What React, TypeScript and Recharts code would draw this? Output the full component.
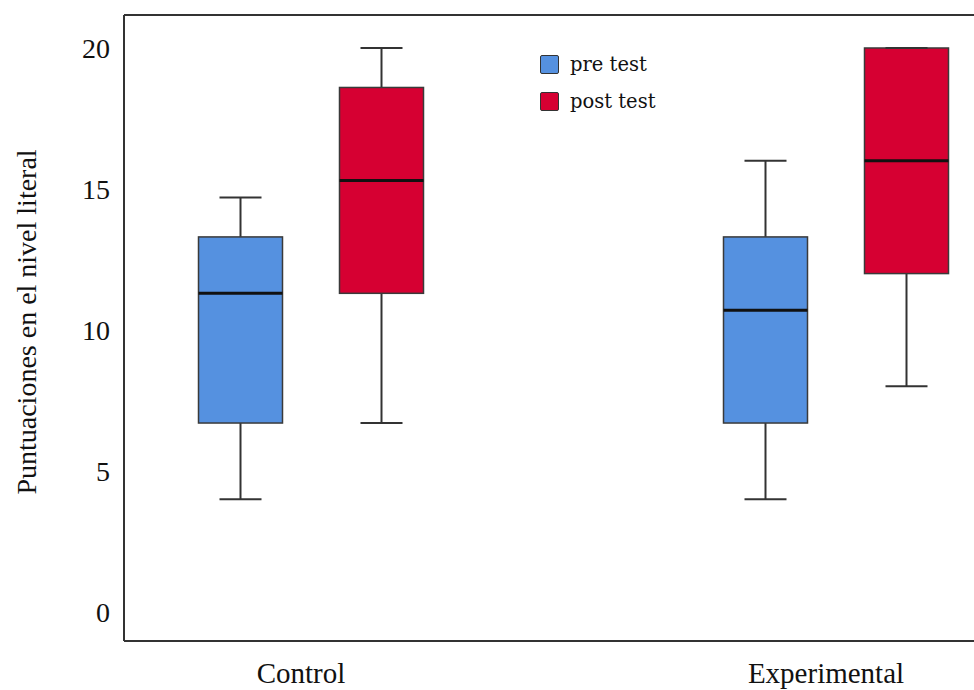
import React from "react";
import { ComposedChart, Bar, XAxis, YAxis, ReferenceLine, Legend } from "recharts";

// five-number summaries
const groups = ["Control", "Experimental"];
const preMin = [4, 4];
const preQ1 = [6.7, 6.7];
const preMedian = [11.3, 10.7];
const preQ3 = [13.3, 13.3];
const preMax = [14.7, 16];
const postMin = [6.7, 8];
const postQ1 = [11.3, 12];
const postMedian = [15.3, 16];
const postQ3 = [18.6, 20];
const postMax = [20, 20];
const yTicks = [0, 5, 10, 15, 20];
const yDomain = [-1.03, 21.17];
const seriesOrder = ["pre", "post"];

const BLUE = "#5591e0";
const RED = "#d60032";
const SERIF = "'Liberation Serif', 'Times New Roman', serif";

const data = groups.map((g, i) => ({
  group: g,
  pre: [preMin[i], preMax[i]],
  post: [postMin[i], postMax[i]],
  preStats: { min: preMin[i], q1: preQ1[i], med: preMedian[i], q3: preQ3[i], max: preMax[i] },
  postStats: { min: postMin[i], q1: postQ1[i], med: postMedian[i], q3: postQ3[i], max: postMax[i] },
}));

type Stats = { min: number; q1: number; med: number; q3: number; max: number };

function BoxShape(props: any) {
  const { x, y, width, height, fill, stats } = props as { x: number; y: number; width: number; height: number; fill: string; stats: Stats };
  const top = Math.min(y, y + height);
  const h = Math.abs(height);
  const span = stats.max - stats.min || 1;
  const py = (v: number) => top + ((stats.max - v) / span) * h;
  const cx = x + width / 2;
  const capW = width / 2;
  return (
    <g>
      <line x1={cx} x2={cx} y1={py(stats.max)} y2={py(stats.q3)} stroke="#333" strokeWidth={2} />
      <line x1={cx} x2={cx} y1={py(stats.q1)} y2={py(stats.min)} stroke="#333" strokeWidth={2} />
      <rect
        x={x}
        y={py(stats.q3)}
        width={width}
        height={py(stats.q1) - py(stats.q3)}
        fill={fill}
        stroke="#3a3a3a"
        strokeWidth={1.5}
      />
      <line x1={x} x2={x + width} y1={py(stats.med)} y2={py(stats.med)} stroke="#111" strokeWidth={3} />
      <line x1={cx - capW / 2} x2={cx + capW / 2} y1={py(stats.max)} y2={py(stats.max)} stroke="#333" strokeWidth={2} />
      <line x1={cx - capW / 2} x2={cx + capW / 2} y1={py(stats.min)} y2={py(stats.min)} stroke="#333" strokeWidth={2} />
    </g>
  );
}

function LegendBox({ payload }: any) {
  const items = [...(payload || [])].sort(
    (a: any, b: any) => seriesOrder.indexOf(a.dataKey) - seriesOrder.indexOf(b.dataKey)
  );
  return (
    <div style={{ fontFamily: "'DejaVu Serif', serif", fontSize: 19.5, color: "#111" }}>
      {items.map((p: any) => (
        <div key={p.value} style={{ display: "flex", alignItems: "center", height: 37 }}>
          <span
            style={{
              display: "inline-block",
              width: 17,
              height: 17,
              background: p.color,
              border: "1px solid #333",
              borderRadius: 2,
              marginRight: 11,
            }}
          />
          <span>{p.value}</span>
        </div>
      ))}
    </div>
  );
}

export default function App() {
  return (
    <div style={{ position: "absolute", left: 0, top: 0, background: "#fff" }}>
      <ComposedChart
        width={974}
        height={690}
        data={data}
        margin={{ top: 15, right: 0, bottom: 0, left: 0 }}
        barGap={57}
        barSize={84}
      >
        <XAxis
          dataKey="group"
          height={49}
          padding={{ left: -75.5, right: -124.5 }}
          axisLine={{ stroke: "#333", strokeWidth: 2 }}
          tickLine={false}
          tick={({ x, y, payload }: any) => (
            <text x={x - 10} y={y + 34} textAnchor="middle" fontFamily={SERIF} fontSize={29} fill="#111">
              {payload.value}
            </text>
          )}
        />
        <YAxis
          type="number"
          domain={yDomain}
          ticks={yTicks}
          allowDataOverflow
          width={124}
          axisLine={{ stroke: "#333", strokeWidth: 2 }}
          tickLine={false}
          tickMargin={8}
          tick={{ fontFamily: SERIF, fontSize: 28, fill: "#111" }}
          label={{
            content: () => (
              <text
                x={26}
                y={322}
                transform="rotate(-90 26 322)"
                textAnchor="middle"
                dominantBaseline="central"
                fontFamily={SERIF}
                fontSize={28}
                fill="#111"
              >
                Puntuaciones en el nivel literal
              </text>
            ),
          }}
        />
        <ReferenceLine y={yDomain[1]} stroke="#333" strokeWidth={2} />
        <Legend
          layout="vertical"
          align="center"
          verticalAlign="middle"
          content={<LegendBox />}
          wrapperStyle={{ position: "absolute", left: 540, top: 46, width: 200 }}
        />
        <Bar
          dataKey="pre"
          name="pre test"
          fill={BLUE}
          isAnimationActive={false}
          shape={(p: any) => <BoxShape {...p} fill={BLUE} stats={p.payload.preStats} />}
        />
        <Bar
          dataKey="post"
          name="post test"
          fill={RED}
          isAnimationActive={false}
          shape={(p: any) => <BoxShape {...p} fill={RED} stats={p.payload.postStats} />}
        />
      </ComposedChart>
    </div>
  );
}
